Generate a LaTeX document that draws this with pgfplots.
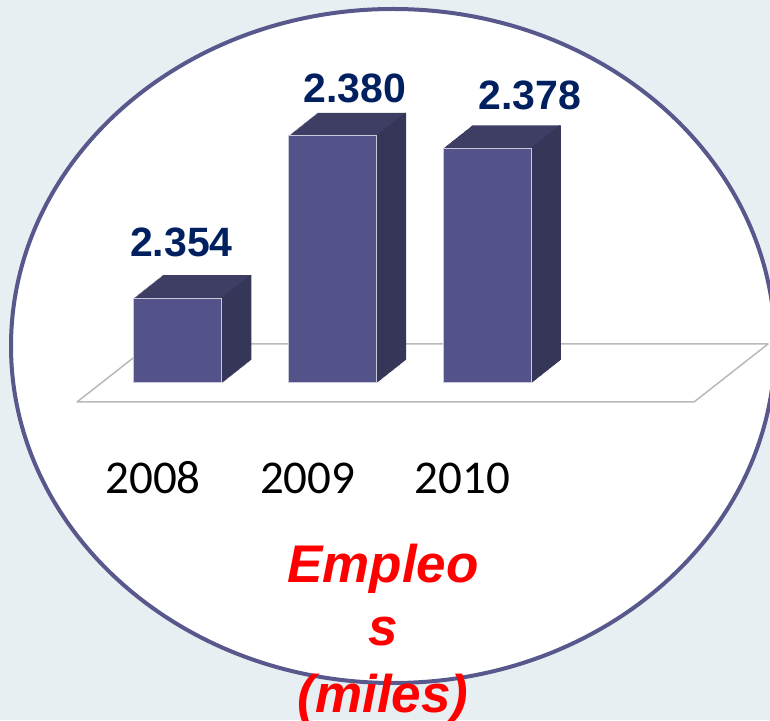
\documentclass[border=0pt]{standalone}
\usepackage{pgfplots}
\pgfplotsset{compat=1.18}
\usepackage{pgfplotstable}
\usepackage{fontspec}
\setmainfont{Liberation Sans}
\newfontfamily\carlito{Carlito}
\definecolor{bg}{RGB}{232,239,243}
\definecolor{ring}{RGB}{88,88,140}
\definecolor{frontc}{RGB}{83,83,137}
\definecolor{topc}{RGB}{62,62,101}
\definecolor{sidec}{RGB}{54,54,88}
\definecolor{edgec}{RGB}{200,200,218}
\definecolor{navy}{RGB}{0,32,96}
\pgfplotstableread{
x v lab lx ly
0 2354 2.354 4 56
1 2380 2.380 22.5 47
2 2378 2.378 43 53.4
}\bardata
\begin{document}
\begin{tikzpicture}
\useasboundingbox (0,0) rectangle (770pt,720pt);
\fill[bg] (0,0) rectangle (770pt,720pt);
\begin{scope}
\clip (0,0) rectangle (770pt,720pt);
\filldraw[fill=white, draw=ring, line width=4pt] (393pt,374pt) ellipse [x radius=382pt, y radius=337pt];
\end{scope}
\filldraw[fill=white, draw=gray!55, line width=1.5pt, line join=round] (77pt,318pt) -- (694pt,318pt) -- (768pt,376pt) -- (151pt,376pt) -- cycle;
\begin{axis}[at={(177.5pt,337pt)}, anchor=south west,
  x=154.75pt, y=6.24pt, xmin=0, xmax=2, ymin=0, ymax=45,
  enlargelimits=false, clip=false,
  axis line style={draw=none}, major tick style={draw=none},
  ytick=\empty, xtick={0,1,2}, xticklabels={2008,2009,2010},
  xticklabel style={font=\carlito\fontsize{47}{56}\selectfont, anchor=base, yshift=-110.5pt, xshift=-24.5pt, text=black}]
\pgfplotsinvokeforeach{1,...,29}{
  \addplot[ybar, bar width=88pt, bar shift=#1pt, yshift={#1*0.7931pt}, fill=topc, draw=none, forget plot]
    table[x=x, y expr=\thisrow{v}-2340.4]{\bardata};
}
\pgfplotsinvokeforeach{45,...,73}{
  \addplot[ybar, bar width=1.6pt, bar shift=#1pt, yshift={(#1-44)*0.7931pt}, fill=sidec, draw=none, forget plot]
    table[x=x, y expr=\thisrow{v}-2340.4]{\bardata};
}
\addplot[ybar, bar width=88pt, bar shift=0pt, fill=frontc, draw=edgec, line width=1pt,
  nodes near coords, point meta=explicit symbolic,
  visualization depends on={\thisrow{lx} \as \lx},
  visualization depends on={\thisrow{ly} \as \ly},
  every node near coord/.append style={anchor=center, xshift=\lx pt, yshift=\ly pt,
    font=\bfseries\fontsize{41}{49}\selectfont, text=navy}]
  table[x=x, y expr=\thisrow{v}-2340.4, meta=lab]{\bardata};
\end{axis}
\node[anchor=base, font=\bfseries\itshape\fontsize{53}{63}\selectfont, text=red] at (383pt,138pt) {Empleo};
\node[anchor=base, font=\bfseries\itshape\fontsize{53}{63}\selectfont, text=red] at (383pt,75pt) {s};
\node[anchor=base, font=\bfseries\itshape\fontsize{53}{63}\selectfont, text=red] at (383pt,8pt) {(miles)};
\end{tikzpicture}
\end{document}
